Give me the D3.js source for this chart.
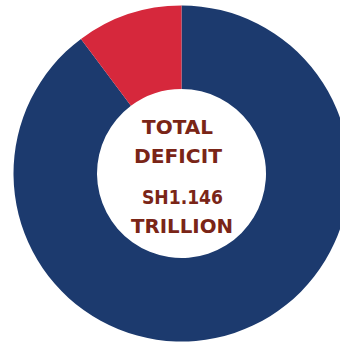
<!DOCTYPE html>
<html>
<head>
<meta charset="utf-8">
<script src="https://cdn.jsdelivr.net/npm/d3@7"></script>
<style>
  html, body { margin: 0; padding: 0; background: #fff; }
  svg { display: block; }
</style>
</head>
<body>
<div id="chart"></div>
<script>
// shares of the deficit (Sh trillion)
var categories = ['Main share', 'Smaller share'];
var values     = [1.029, 0.117];
var colors     = ['#1c3a6e', '#d6283c'];
var labelLines = ['TOTAL', 'DEFICIT', 'SH1.146', 'TRILLION'];

var width = 340, height = 342;
var cx = 181.5, cy = 173.5;
var outerR = 168, innerR = 84.5;

var svg = d3.select('#chart')
    .append('svg')
    .attr('width', width)
    .attr('height', height);

var pie = d3.pie()
    .sort(null)
    .value(function (d) { return d; });

var arc = d3.arc()
    .innerRadius(innerR)
    .outerRadius(outerR);

var g = svg.append('g')
    .attr('transform', 'translate(' + cx + ',' + cy + ')');

g.selectAll('path')
    .data(pie(values))
    .enter()
    .append('path')
    .attr('d', arc)
    .attr('fill', function (d, i) { return colors[i]; })
    .append('title')
    .text(function (d, i) { return categories[i]; });

// centre label, each line placed on its own baseline
var lines = [
    { x: 177.5, y: 134, w: 71 },
    { x: 178,   y: 163, w: 88 },
    { x: 182.5, y: 204, w: 81 },
    { x: 182,   y: 233, w: 102 }
];

lines.forEach(function (l, i) {
    svg.append('text')
        .attr('x', l.x)
        .attr('y', l.y)
        .attr('text-anchor', 'middle')
        .attr('font-family', 'DejaVu Sans, sans-serif')
        .attr('font-weight', 'bold')
        .attr('font-size', 20)
        .attr('fill', '#7a2517')
        .attr('textLength', l.w)
        .attr('lengthAdjust', 'spacingAndGlyphs')
        .text(labelLines[i]);
});
</script>
</body>
</html>
